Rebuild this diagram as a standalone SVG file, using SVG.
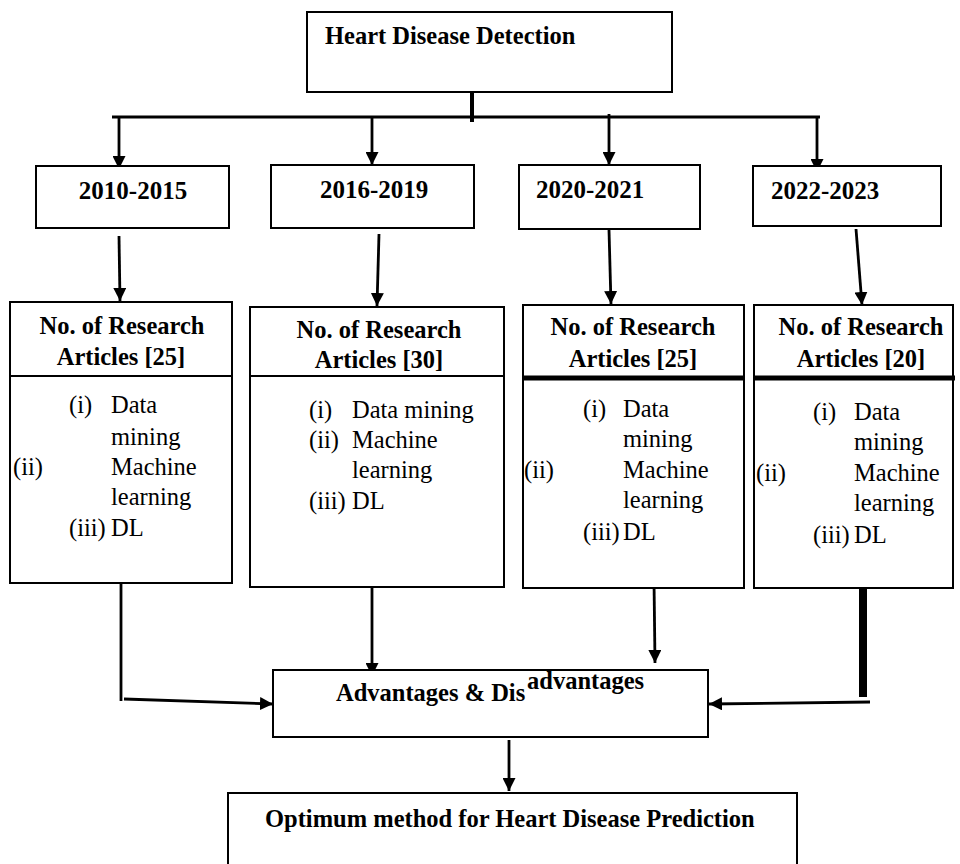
<svg xmlns="http://www.w3.org/2000/svg" width="960" height="864" viewBox="0 0 960 864">
<style>
.box{fill:#fff;stroke:#000;stroke-width:2}
.b{font-family:"Liberation Serif","Times New Roman",serif;font-weight:bold;font-size:24.5px;fill:#000}
.y{font-family:"Liberation Serif","Times New Roman",serif;font-weight:bold;font-size:25px;fill:#000}
.r{font-family:"Liberation Serif","Times New Roman",serif;font-size:24.5px;fill:#000}
.c{text-anchor:middle}
.ln{fill:none;stroke:#000;stroke-width:2.8}
.arr{fill:none;stroke:#000;stroke-width:2.8;marker-end:url(#ah)}
.div{stroke:#000;stroke-width:2}
.divt{stroke:#000;stroke-width:5}
</style>
<defs>
<marker id="ah" markerUnits="userSpaceOnUse" markerWidth="14" markerHeight="13" refX="13" refY="6.5" orient="auto">
<path d="M0,0 L13,6.5 L0,13 z" fill="#000"/>
</marker>
</defs>
<rect width="960" height="864" fill="#fff"/>

<g id="connectors">
<line x1="472" y1="92" x2="472" y2="122" stroke="#000" stroke-width="4"/>
<line x1="112" y1="117" x2="820" y2="117" stroke="#000" stroke-width="3"/>
<line class="arr" x1="119" y1="117" x2="119" y2="169"/>
<line class="arr" x1="372" y1="117" x2="372" y2="165"/>
<line class="arr" x1="609" y1="114" x2="609" y2="165"/>
<line class="arr" x1="817" y1="117" x2="817" y2="172"/>
<line class="arr" x1="119" y1="236" x2="120" y2="301"/>
<line class="arr" x1="379" y1="234" x2="377" y2="306"/>
<line class="arr" x1="609" y1="230" x2="611" y2="304"/>
<line class="arr" x1="856" y1="229" x2="862" y2="305"/>
<line class="ln" x1="121" y1="583" x2="121" y2="701"/>
<line class="arr" x1="124" y1="699" x2="273" y2="704"/>
<line class="arr" x1="372" y1="587" x2="372" y2="676"/>
<line class="arr" x1="654" y1="580" x2="655" y2="663"/>
<line x1="863" y1="588" x2="863" y2="697" stroke="#000" stroke-width="8"/>
<line class="arr" x1="870" y1="702" x2="709" y2="704"/>
<line class="arr" x1="509" y1="740" x2="509" y2="791"/>
</g>

<g id="top">
<rect class="box" x="307" y="12" width="365" height="80"/>
<text class="b" x="325" y="44">Heart Disease Detection</text>
</g>

<g id="y1">
<rect class="box" x="36" y="166" width="193" height="62"/>
<text class="y c" x="133" y="199">2010-2015</text>
</g>
<g id="y2">
<rect class="box" x="271" y="165" width="203" height="63"/>
<text class="y" x="320" y="198">2016-2019</text>
</g>
<g id="y3">
<rect class="box" x="519" y="165" width="181" height="64"/>
<text class="y" x="536" y="198">2020-2021</text>
</g>
<g id="y4">
<rect class="box" x="753" y="166" width="188" height="60"/>
<text class="y" x="771" y="199">2022-2023</text>
</g>

<g id="r1">
<rect class="box" x="10" y="302" width="222" height="281"/>
<line class="div" x1="10" y1="376" x2="232" y2="376"/>
<text class="b c" x="122" y="334">No. of Research</text>
<text class="b c" x="121" y="365">Articles [25]</text>
<text class="r" x="69" y="413">(i)</text>
<text class="r" x="111" y="413">Data</text>
<text class="r" x="111" y="445">mining</text>
<text class="r" x="13" y="475">(ii)</text>
<text class="r" x="111" y="475">Machine</text>
<text class="r" x="111" y="505">learning</text>
<text class="r" x="69" y="536">(iii)</text>
<text class="r" x="111" y="536">DL</text>
</g>

<g id="r2">
<rect class="box" x="250" y="307" width="254" height="280"/>
<line class="div" x1="250" y1="376" x2="504" y2="376"/>
<text class="b c" x="379" y="338">No. of Research</text>
<text class="b c" x="379" y="368">Articles [30]</text>
<text class="r" x="309" y="418">(i)</text>
<text class="r" x="352" y="418">Data mining</text>
<text class="r" x="309" y="448">(ii)</text>
<text class="r" x="352" y="448">Machine</text>
<text class="r" x="352" y="478">learning</text>
<text class="r" x="309" y="509">(iii)</text>
<text class="r" x="352" y="509">DL</text>
</g>

<g id="r3">
<rect class="box" x="523" y="305" width="221" height="283"/>
<line class="divt" x1="523" y1="378" x2="744" y2="378"/>
<text class="b c" x="633" y="335">No. of Research</text>
<text class="b c" x="633" y="367">Articles [25]</text>
<text class="r" x="583" y="417">(i)</text>
<text class="r" x="623" y="417">Data</text>
<text class="r" x="623" y="447">mining</text>
<text class="r" x="524" y="478">(ii)</text>
<text class="r" x="623" y="478">Machine</text>
<text class="r" x="623" y="508">learning</text>
<text class="r" x="583" y="540">(iii)</text>
<text class="r" x="623" y="540">DL</text>
</g>

<g id="r4">
<rect class="box" x="754" y="305" width="199" height="283"/>
<line class="divt" x1="754" y1="378" x2="955" y2="378"/>
<text class="b c" x="861" y="335">No. of Research</text>
<text class="b c" x="861" y="367">Articles [20]</text>
<text class="r" x="813" y="420">(i)</text>
<text class="r" x="854" y="420">Data</text>
<text class="r" x="854" y="450">mining</text>
<text class="r" x="756" y="481">(ii)</text>
<text class="r" x="854" y="481">Machine</text>
<text class="r" x="854" y="511">learning</text>
<text class="r" x="813" y="543">(iii)</text>
<text class="r" x="854" y="543">DL</text>
</g>

<g id="adv">
<rect class="box" x="273" y="670" width="435" height="67"/>
<text class="b" x="336" y="701">Advantages &amp; Dis<tspan x="527" y="689">advantages</tspan></text>
</g>

<g id="opt">
<rect class="box" x="228" y="793" width="569" height="90"/>
<text class="b" x="265" y="827">Optimum method for Heart Disease Prediction</text>
</g>
</svg>
